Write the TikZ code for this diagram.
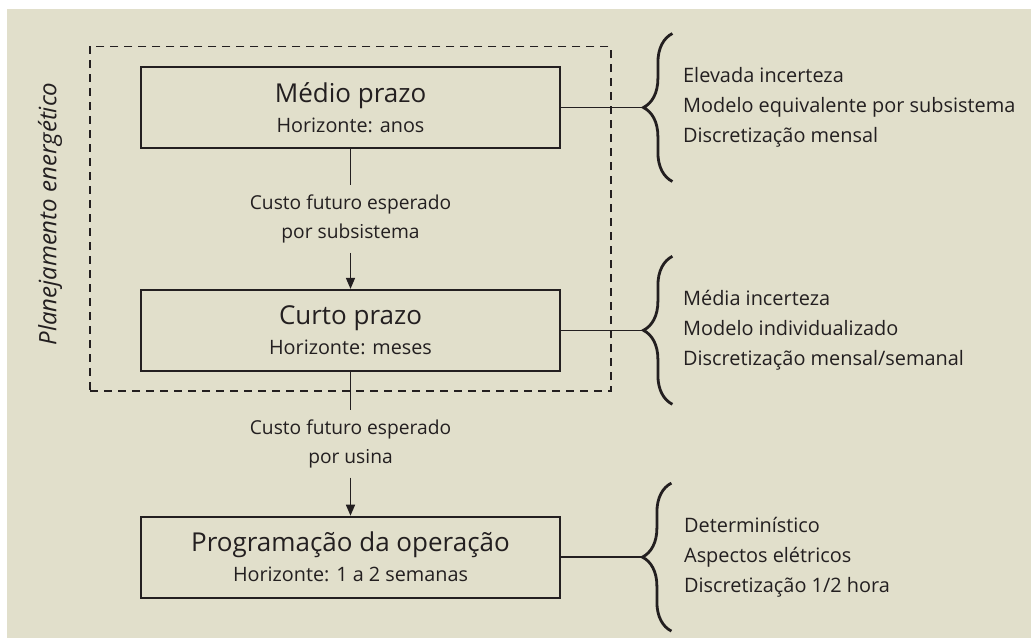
\documentclass[tikz,border=0pt]{standalone}
\usepackage{fontspec}
\setmainfont{Open Sans}
\usepackage{tikz}
\usetikzlibrary{arrows.meta, positioning, fit, calc, decorations.pathreplacing}

\definecolor{papel}{HTML}{E1DFCB}
\definecolor{tinta}{HTML}{231F20}

\begin{document}
\begin{tikzpicture}[x=1pt,y=-1pt,>={Triangle[width=9pt,length=11pt]},
        color=tinta, line width=1.5pt,
        etapa/.style={draw, line width=1.8pt, minimum width=419pt, minimum height=81pt, align=center,
          inner sep=0pt, font=\fontsize{19.8}{30}\selectfont},
        rotulo/.style={align=center, inner sep=9pt, font=\fontsize{19.2}{29}\selectfont},
        notas/.style={anchor=west, align=left, inner sep=0pt, font=\fontsize{19.9}{30}\selectfont},
        chave/.style={decorate, decoration={brace, amplitude=29pt}, line width=2.8pt},
        quadro/.style={draw, dash pattern=on 8pt off 6pt, inner xsep=50pt, inner ysep=19.5pt}]

      \useasboundingbox (0,0) rectangle (1031,638);
      \fill[papel] (7,9) rectangle (1031,638);

      % etapas do planejamento
      \node[etapa] (medio) at (350.5,107.5) {{\fontsize{26}{30}\selectfont Médio prazo}\\Horizonte: anos};
      \node[etapa, below=140pt of medio] (curto) {{\fontsize{26}{30}\selectfont Curto prazo}\\Horizonte: meses};
      \node[etapa, below=144pt of curto] (prog) {{\fontsize{26}{30}\selectfont Programação da operação}\\Horizonte: 1 a 2 semanas};

      \node[quadro, fit=(medio)(curto)] (planej) {};
      \node[rotate=90, font=\itshape\fontsize{24}{28}\selectfont] (plan) at (50,214) {Planejamento energético};

      % custos futuros
      \node[rotulo] (custo1) at ($(medio.south)!0.5!(curto.north)$) {Custo futuro esperado\\por subsistema};
      \node[rotulo] (custo2) at ($(curto.south)!0.5!(prog.north)$) {Custo futuro esperado\\por usina};
      \draw (medio) -- (custo1);
      \draw[->] (custo1) -- (curto);
      \draw (curto) -- (custo2);
      \draw[->] (custo2) -- (prog);

      % chaves com as caracteristicas
      \coordinate (p1) at ($(medio.east)+(82.5,0)$);
      \coordinate (p2) at ($(curto.east)+(82.5,0)$);
      \coordinate (p3) at ($(prog.east)+(80.5,0)$);
      \draw[chave] ($(p1)+(29,74)$) -- ($(p1)+(29,-74)$);
      \draw[chave] ($(p2)+(29,74)$) -- ($(p2)+(29,-74)$);
      \draw[chave] ($(p3)+(30,74)$) -- ($(p3)+(30,-74)$);
      \draw[line width=1.3pt] (medio.east) -- (p1);
      \draw[line width=1.3pt] (curto.east) -- (p2);
      \draw[line width=1.3pt] (prog.east) -- (p3);

      \node[notas] (nota1) at ($(p1)+(39,0)$) {Elevada incerteza\\Modelo equivalente por subsistema\\Discretização mensal};
      \node[notas] (nota2) at ($(p2)+(39,0)$) {Média incerteza\\Modelo individualizado\\Discretização mensal/semanal};
      \node[notas] (nota3) at ($(p3)+(42,0)$) {Determinístico\\Aspectos elétricos\\Discretização 1/2 hora};
\end{tikzpicture}
\end{document}
